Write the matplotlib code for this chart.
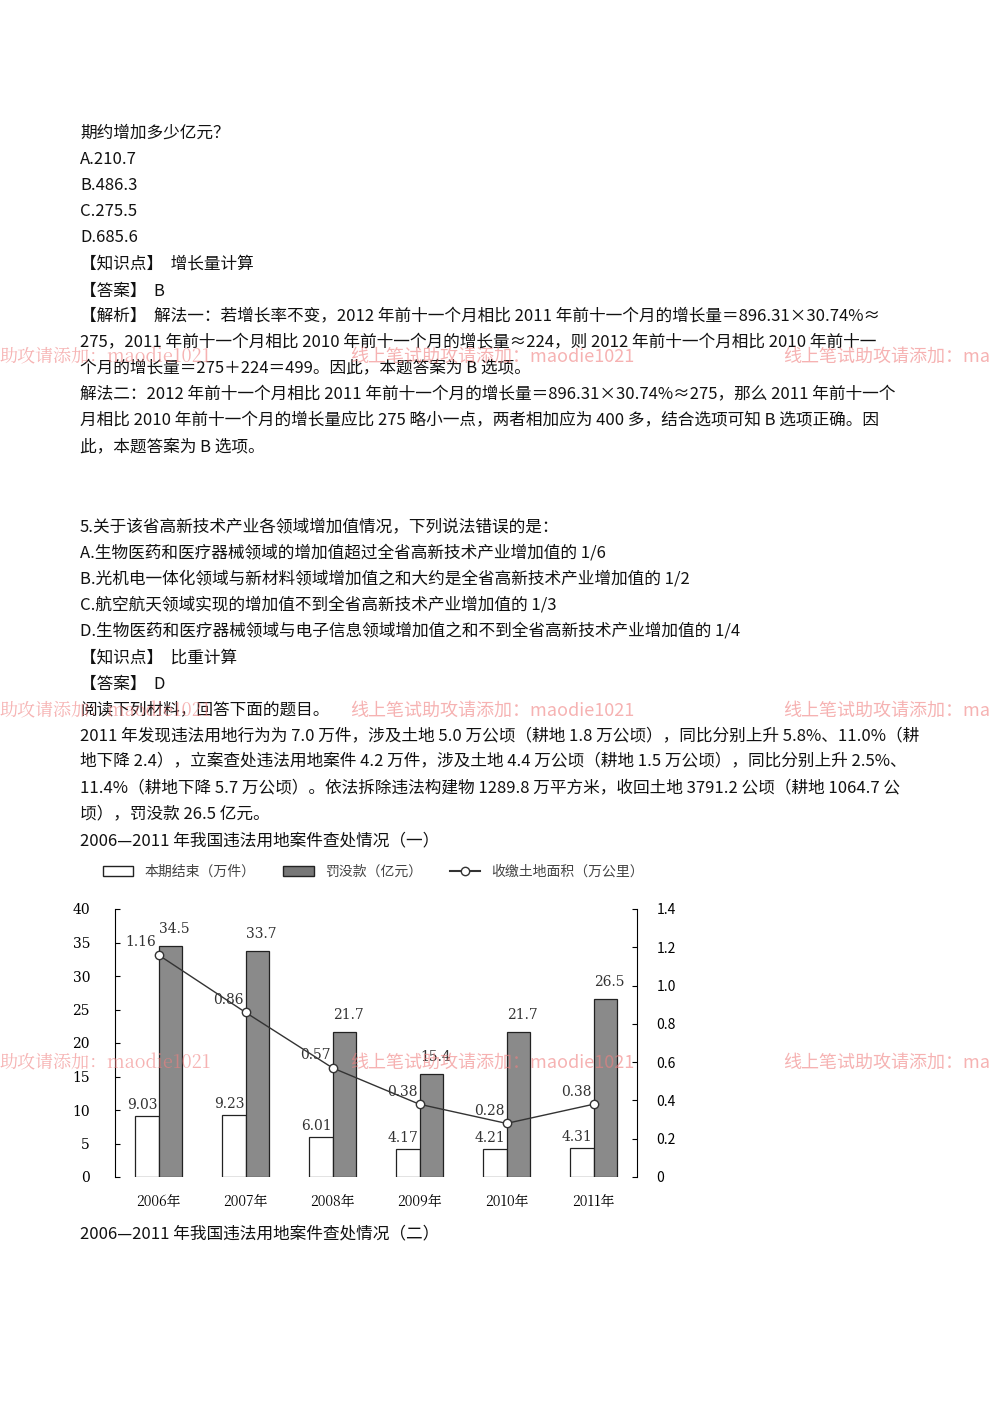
import matplotlib
matplotlib.use("Agg")
import matplotlib.pyplot as plt
import numpy as np

plt.rcParams["font.family"] = ["Noto Sans CJK SC", "DejaVu Sans"]

years = ["2006年", "2007年", "2008年", "2009年", "2010年", "2011年"]
cases = [9.03, 9.23, 6.01, 4.17, 4.21, 4.31]
fines = [34.5, 33.7, 21.7, 15.4, 21.7, 26.5]
land = [1.16, 0.86, 0.57, 0.38, 0.28, 0.38]

text_lines = [
    (133, "期约增加多少亿元？"),
    (160, "A.210.7"),
    (186, "B.486.3"),
    (212, "C.275.5"),
    (238, "D.685.6"),
    (264, "【知识点】  增长量计算"),
    (291, "【答案】  B"),
    (317, "【解析】  解法一：若增长率不变，2012 年前十一个月相比 2011 年前十一个月的增长量＝896.31×30.74%≈"),
    (343, "275，2011 年前十一个月相比 2010 年前十一个月的增长量≈224，则 2012 年前十一个月相比 2010 年前十一"),
    (369, "个月的增长量＝275＋224＝499。因此，本题答案为 B 选项。"),
    (395, "解法二：2012 年前十一个月相比 2011 年前十一个月的增长量＝896.31×30.74%≈275，那么 2011 年前十一个"),
    (421, "月相比 2010 年前十一个月的增长量应比 275 略小一点，两者相加应为 400 多，结合选项可知 B 选项正确。因"),
    (448, "此，本题答案为 B 选项。"),
    (527, "5.关于该省高新技术产业各领域增加值情况，下列说法错误的是："),
    (553, "A.生物医药和医疗器械领域的增加值超过全省高新技术产业增加值的 1/6"),
    (579, "B.光机电一体化领域与新材料领域增加值之和大约是全省高新技术产业增加值的 1/2"),
    (605, "C.航空航天领域实现的增加值不到全省高新技术产业增加值的 1/3"),
    (631, "D.生物医药和医疗器械领域与电子信息领域增加值之和不到全省高新技术产业增加值的 1/4"),
    (658, "【知识点】  比重计算"),
    (684, "【答案】  D"),
    (710, "阅读下列材料，回答下面的题目。"),
    (736, "2011 年发现违法用地行为为 7.0 万件，涉及土地 5.0 万公顷（耕地 1.8 万公顷），同比分别上升 5.8%、11.0%（耕"),
    (762, "地下降 2.4），立案查处违法用地案件 4.2 万件，涉及土地 4.4 万公顷（耕地 1.5 万公顷），同比分别上升 2.5%、"),
    (788, "11.4%（耕地下降 5.7 万公顷）。依法拆除违法构建物 1289.8 万平方米，收回土地 3791.2 公顷（耕地 1064.7 公"),
    (814, "顷），罚没款 26.5 亿元。"),
    (841, "2006—2011 年我国违法用地案件查处情况（一）"),
    (1234, "2006—2011 年我国违法用地案件查处情况（二）"),
]

W, H = 1000, 1414
fig = plt.figure(figsize=(10, 14.14), dpi=100)

for y, s in text_lines:
    fig.text(80 / W, 1 - y / H, s, fontsize=12, va="center", ha="left", color="#111111")

# watermarks
for y in (357, 711, 1063):
    fig.text(0, 1 - y / H, "助攻请添加：maodie1021", fontsize=13, color="#f08080", alpha=0.6,
             va="center", family=["Noto Serif CJK SC", "Noto Sans CJK SC", "DejaVu Serif"])
    fig.text(350 / W, 1 - y / H, "线上笔试助攻请添加：maodie1021", fontsize=13, color="#f08080",
             alpha=0.6, va="center")
    fig.text(783 / W, 1 - y / H, "线上笔试助攻请添加：ma", fontsize=13, color="#f08080",
             alpha=0.6, va="center")

# chart
ax = fig.add_axes([115 / W, 1 - 1177 / H, (637 - 115) / W, (1177 - 909) / H])
x = np.arange(len(years))
bw = 0.27
ax.bar(x - bw / 2, cases, bw, color="white", edgecolor="#222222", linewidth=0.9)
ax.bar(x + bw / 2, fines, bw, color="#8a8a8a", edgecolor="#222222", linewidth=0.9)
for i in range(len(years)):
    ax.text(x[i] - bw / 2 - 0.05, cases[i] + 0.6, f"{cases[i]:.2f}", ha="center", va="bottom",
            fontsize=10, family="DejaVu Serif", color="#333333")
    ax.text(x[i] + bw / 2 + 0.05, fines[i] + 1.5, f"{fines[i]:.1f}", ha="center", va="bottom",
            fontsize=10, family="DejaVu Serif", color="#333333")
ax.set_ylim(0, 40)
ax.set_xlim(-0.5, 5.5)
ax.set_yticks(range(0, 41, 5))
ax.set_xticks(x)
ax.set_xticklabels(years, fontsize=10, family=["Noto Serif CJK SC", "Noto Sans CJK SC"])
ax.tick_params(axis="x", length=0, pad=12)
ax.tick_params(axis="y", direction="in", labelsize=10, pad=18)
for s in ("top", "bottom", "right"):
    ax.spines[s].set_visible(False)

ax2 = ax.twinx()
ax2.plot(x, land, color="#333333", marker="o", markerfacecolor="white", markersize=6, linewidth=1)
for i in range(len(years)):
    ax2.text(x[i] - 0.2, land[i] + 0.03, f"{land[i]:.2f}", ha="center", va="bottom",
             fontsize=10, family="DejaVu Serif", color="#333333")
ax2.set_ylim(0, 1.4)
ax2.set_yticks(np.arange(0, 1.41, 0.2))
ax2.set_yticklabels([f"{v:.1f}" if v > 0 else "0" for v in np.arange(0, 1.41, 0.2)])
ax2.tick_params(axis="y", direction="in", labelsize=10, pad=14)
for s in ("top", "bottom", "left"):
    ax2.spines[s].set_visible(False)
ax.set_yticklabels([str(v) for v in range(0, 41, 5)], family="DejaVu Serif")

# legend
from matplotlib.patches import Rectangle
from matplotlib.lines import Line2D
handles = [Rectangle((0, 0), 1, 1, facecolor="white", edgecolor="#222222"),
           Rectangle((0, 0), 1, 1, facecolor="#777777", edgecolor="#222222"),
           Line2D([0], [0], color="#333333", marker="o", markerfacecolor="white")]
fig.legend(handles, ["本期结束（万件）", "罚没款（亿元）", "收缴土地面积（万公里）"],
           loc="center left", bbox_to_anchor=(90 / W, 1 - 872 / H), ncol=3, frameon=False,
           fontsize=10, handlelength=2.2, columnspacing=2.0,
           labelcolor="#444444")

fig.savefig("out.png", dpi=100, facecolor="white")
